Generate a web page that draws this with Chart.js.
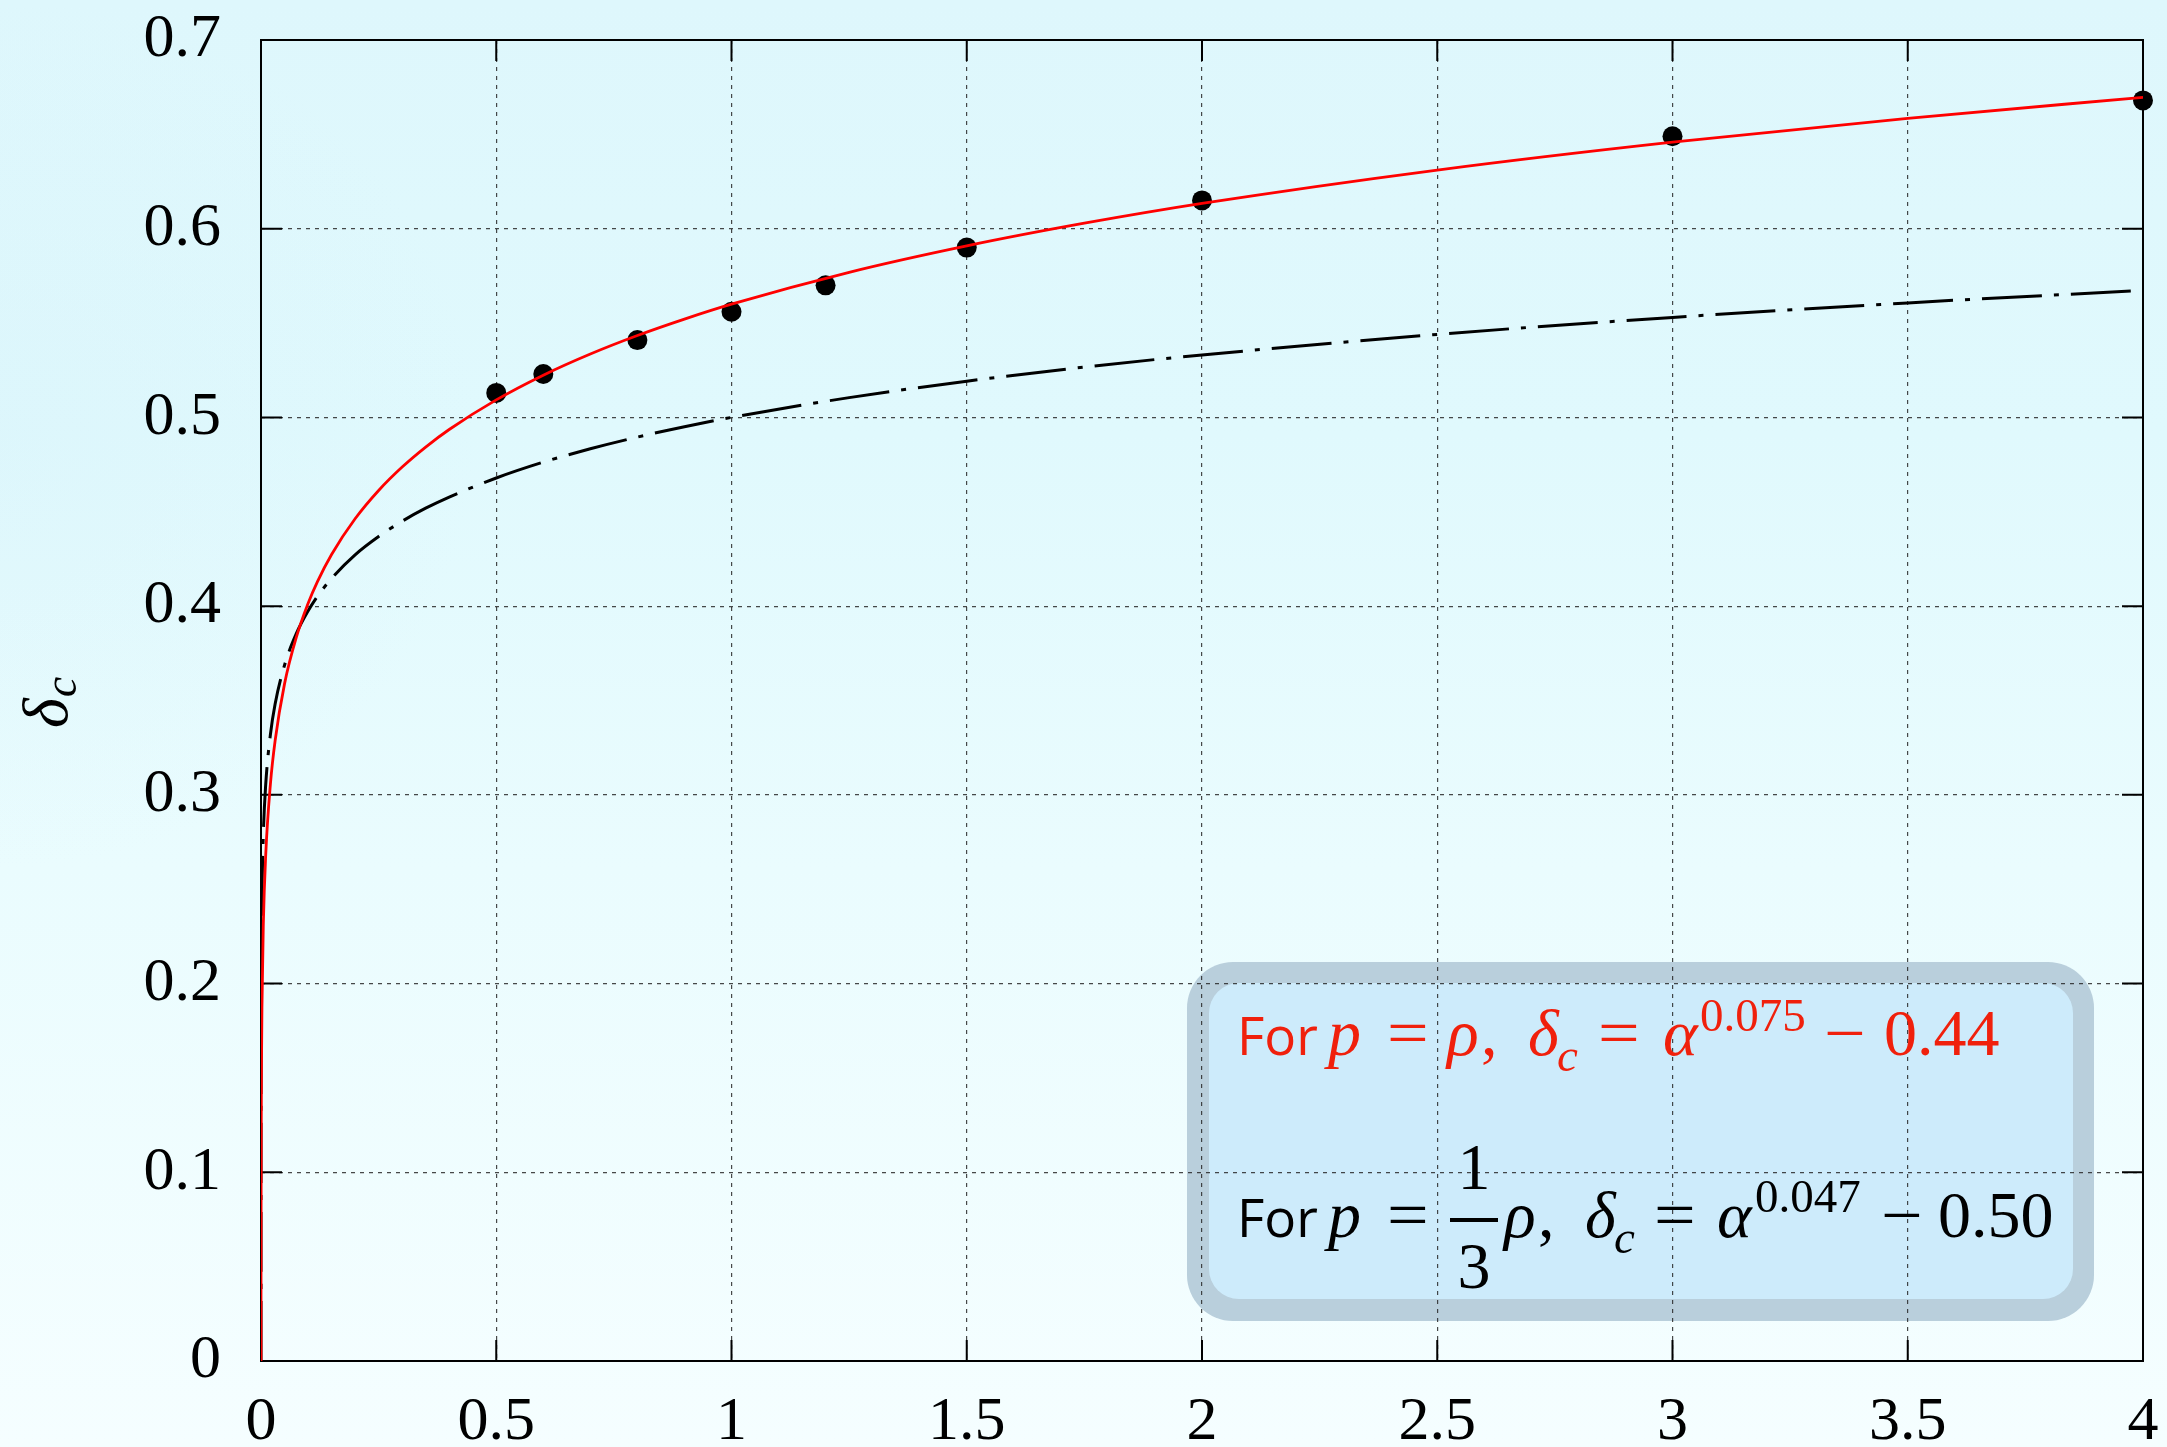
<!DOCTYPE html>
<html>
<head>
<meta charset="utf-8">
<style>
html, body { margin: 0; padding: 0; }
body {
    width: 2167px; height: 1447px; overflow: hidden;
    background:
        radial-gradient(ellipse 22% 30% at 0% 30%, rgba(210, 238, 248, 0.25), rgba(210, 238, 248, 0) 100%),
        linear-gradient(180deg, #def7fc 0%, #e0f9fd 30%, #eafcfe 60%, #f5feff 100%);
}
#wrap { position: relative; width: 2167px; height: 1447px; }
</style>
<script src="https://cdn.jsdelivr.net/npm/chart.js@4.4.1/dist/chart.umd.min.js"></script>
</head>
<body>
<div id="wrap"><canvas id="chart" width="2167" height="1447"></canvas></div>
<script>
// fit curve p = rho (red)
const alphaRed = [0, 0.00002, 0.0001, 0.0005, 0.001, 0.002, 0.005, 0.01, 0.02, 0.03, 0.05, 0.075, 0.1, 0.12, 0.15, 0.2, 0.25, 0.3, 0.35, 0.4, 0.5, 0.6, 0.7, 0.8, 0.9, 1, 1.25, 1.5, 1.75, 2, 2.5, 3, 3.5, 4];
const deltaRed = [0, 0.0042, 0.0612, 0.1255, 0.1557, 0.1874, 0.2321, 0.2680, 0.3057, 0.3287, 0.3588, 0.3834, 0.4014, 0.4130, 0.4274, 0.4463, 0.4613, 0.4737, 0.4843, 0.4936, 0.5093, 0.5224, 0.5336, 0.5434, 0.5521, 0.5600, 0.5769, 0.5909, 0.6029, 0.6134, 0.6311, 0.6459, 0.6585, 0.6696];

// fit curve p = rho/3 (black dash-dot)
const alphaBlack = [0, 0.000001, 0.00001, 0.0001, 0.0005, 0.001, 0.002, 0.005, 0.01, 0.02, 0.03, 0.05, 0.075, 0.1, 0.12, 0.15, 0.2, 0.25, 0.3, 0.35, 0.4, 0.5, 0.6, 0.7, 0.8, 0.9, 1, 1.25, 1.5, 1.75, 2, 2.5, 3, 3.5, 4];
const deltaBlack = [0, 0.0224, 0.0821, 0.1487, 0.1996, 0.2228, 0.2467, 0.2796, 0.3054, 0.3320, 0.3481, 0.3687, 0.3854, 0.3974, 0.4052, 0.4147, 0.4272, 0.4369, 0.4450, 0.4519, 0.4578, 0.4679, 0.4763, 0.4834, 0.4896, 0.4951, 0.5000, 0.5105, 0.5192, 0.5267, 0.5331, 0.5440, 0.5530, 0.5607, 0.5673];

// simulation points
const alphaData = [0.5, 0.6, 0.8, 1, 1.2, 1.5, 2, 3, 4];
const deltaData = [0.513, 0.523, 0.541, 0.556, 0.570, 0.590, 0.615, 0.649, 0.668];

const xTicks = [0, 0.5, 1, 1.5, 2, 2.5, 3, 3.5, 4];
const yTicks = [0, 0.1, 0.2, 0.3, 0.4, 0.5, 0.6, 0.7];

const serif = '"Liberation Serif", "Times New Roman", serif';
const RED_TXT = "rgb(240, 32, 12)";

const pts = (xs, ys) => xs.map((v, i) => ({ x: v, y: ys[i] }));

// frame on all four sides + inward ticks
const frame = {
    id: "frame",
    beforeDatasetsDraw(chart) {
        const { ctx, chartArea: a, scales: { x, y } } = chart;
        ctx.save();
        ctx.strokeStyle = "#000";
        ctx.lineWidth = 2;
        ctx.setLineDash([]);
        ctx.strokeRect(a.left, a.top, a.right - a.left, a.bottom - a.top);
        ctx.beginPath();
        x.ticks.forEach(t => {
            const px = x.getPixelForValue(t.value);
            ctx.moveTo(px, a.bottom); ctx.lineTo(px, a.bottom - 21);
            ctx.moveTo(px, a.top); ctx.lineTo(px, a.top + 21);
        });
        y.ticks.forEach(t => {
            const py = y.getPixelForValue(t.value);
            ctx.moveTo(a.left, py); ctx.lineTo(a.left + 21, py);
            ctx.moveTo(a.right, py); ctx.lineTo(a.right - 21, py);
        });
        ctx.stroke();
        ctx.restore();
    }
};

// y title: delta_c, rotated
const yTitle = {
    id: "yTitle",
    afterDraw(chart) {
        const ctx = chart.ctx;
        ctx.save();
        ctx.translate(67, 728);
        ctx.rotate(-Math.PI / 2);
        ctx.fillStyle = "#000";
        ctx.textBaseline = "alphabetic";
        ctx.font = `italic 64px ${serif}`;
        ctx.fillText("δ", 0, 0);
        const w = ctx.measureText("δ").width;
        ctx.font = `italic 46px ${serif}`;
        ctx.fillText("c", w + 1, 9);
        ctx.restore();
    }
};

function roundRect(ctx, x, y, w, h, r) {
    ctx.beginPath();
    ctx.moveTo(x + r, y);
    ctx.arcTo(x + w, y, x + w, y + h, r);
    ctx.arcTo(x + w, y + h, x, y + h, r);
    ctx.arcTo(x, y + h, x, y, r);
    ctx.arcTo(x, y, x + w, y, r);
    ctx.closePath();
}

// text piece, optionally stretched sideways
function put(ctx, s, x, y, font, color, sx) {
    ctx.save();
    ctx.translate(x, y);
    ctx.scale(sx || 1, 1);
    ctx.font = font;
    ctx.fillStyle = color;
    ctx.fillText(s, 0, 0);
    ctx.restore();
}

// formula box
const formulaBox = {
    id: "formulaBox",
    beforeDraw(chart) {
        const ctx = chart.ctx;
        ctx.save();
        ctx.fillStyle = "#b9cfdc";
        roundRect(ctx, 1187, 962, 907, 359, 46);
        ctx.fill();
        ctx.fillStyle = "#cdebfb";
        roundRect(ctx, 1209, 983, 864, 316, 30);
        ctx.fill();
        ctx.restore();
    },
    afterDraw(chart) {
        const ctx = chart.ctx;
        const M = `66px ${serif}`, MI = `italic 66px ${serif}`;
        const S = `47px ${serif}`, SI = `italic 47px ${serif}`;
        const SANS = `53px "Open Sans", sans-serif`;
        const EQ = 1.12;
        ctx.save();
        ctx.textBaseline = "alphabetic";
        ctx.textAlign = "left";

        // line 1 (red)
        let c = RED_TXT, b = 1055;
        put(ctx, "For", 1237, b, SANS, c);
        put(ctx, "p", 1328, b, MI, c);
        put(ctx, "=", 1387, b, M, c, EQ);
        put(ctx, "ρ", 1447, b, MI, c);
        put(ctx, ",", 1481, b, M, c);
        put(ctx, "δ", 1528, b, MI, c);
        put(ctx, "c", 1557, b + 16, SI, c);
        put(ctx, "=", 1598, b, M, c, EQ);
        put(ctx, "α", 1663, b, MI, c);
        put(ctx, "0.075", 1700, b - 24, S, c);
        put(ctx, "−", 1824, b, M, c, EQ);
        put(ctx, "0.44", 1884, b, M, c);

        // line 2 (black)
        c = "#000"; b = 1237;
        put(ctx, "For", 1237, b, SANS, c);
        put(ctx, "p", 1328, b, MI, c);
        put(ctx, "=", 1387, b, M, c, EQ);
        ctx.textAlign = "center";
        put(ctx, "1", 1474, 1189, M, c);
        put(ctx, "3", 1474, 1288, M, c);
        ctx.textAlign = "left";
        ctx.fillRect(1450, 1218, 48, 4);
        put(ctx, "ρ", 1504, b, MI, c);
        put(ctx, ",", 1538, b, M, c);
        put(ctx, "δ", 1585, b, MI, c);
        put(ctx, "c", 1614, b + 16, SI, c);
        put(ctx, "=", 1654, b, M, c, EQ);
        put(ctx, "α", 1717, b, MI, c);
        put(ctx, "0.047", 1755, b - 25, S, c);
        put(ctx, "−", 1881, b, M, c, EQ);
        put(ctx, "0.50", 1938, b, M, c);
        ctx.restore();
    }
};

const tickLabel = v => String(Math.round(v * 10) / 10);

new Chart(document.getElementById("chart"), {
    type: "scatter",
    data: {
        datasets: [
            {
                label: "p = rho",
                data: pts(alphaRed, deltaRed),
                showLine: true,
                borderColor: "#ff0000",
                borderWidth: 2.8,
                pointRadius: 0,
                cubicInterpolationMode: "monotone",
                fill: false
            },
            {
                label: "p = rho/3",
                data: pts(alphaBlack, deltaBlack),
                showLine: true,
                borderColor: "#000",
                borderWidth: 3,
                borderDash: [60, 12, 5, 12],
                pointRadius: 0,
                cubicInterpolationMode: "monotone",
                fill: false
            },
            {
                label: "data",
                data: pts(alphaData, deltaData),
                showLine: false,
                pointRadius: 10,
                backgroundColor: "#000",
                borderWidth: 0,
                clip: false
            }
        ]
    },
    options: {
        responsive: false,
        animation: false,
        devicePixelRatio: 1,
        layout: { padding: { top: 40, right: 24, left: 0, bottom: 0 } },
        plugins: { legend: { display: false }, tooltip: { enabled: false } },
        scales: {
            x: {
                type: "linear",
                min: 0, max: 4,
                afterBuildTicks: s => { s.ticks = xTicks.map(v => ({ value: v })); },
                afterFit: s => { s.height = 86; s.paddingLeft = 0; s.paddingRight = 0; },
                ticks: {
                    callback: tickLabel,
                    color: "#000",
                    font: { family: serif, size: 62 },
                    padding: 25,
                    maxRotation: 0
                },
                grid: { color: "rgba(40,40,40,0.85)", lineWidth: 1.2, drawTicks: false },
                border: { display: false, dash: [4, 5] }
            },
            y: {
                type: "linear",
                min: 0, max: 0.7,
                afterBuildTicks: s => { s.ticks = yTicks.map(v => ({ value: v })); },
                afterFit: s => { s.width = 261; s.paddingTop = 0; s.paddingBottom = 0; },
                ticks: {
                    callback: tickLabel,
                    color: "#000",
                    font: { family: serif, size: 62 },
                    padding: 40
                },
                grid: { color: "rgba(40,40,40,0.85)", lineWidth: 1.2, drawTicks: false },
                border: { display: false, dash: [4, 5] }
            }
        }
    },
    plugins: [formulaBox, frame, yTitle]
});
</script>
</body>
</html>
